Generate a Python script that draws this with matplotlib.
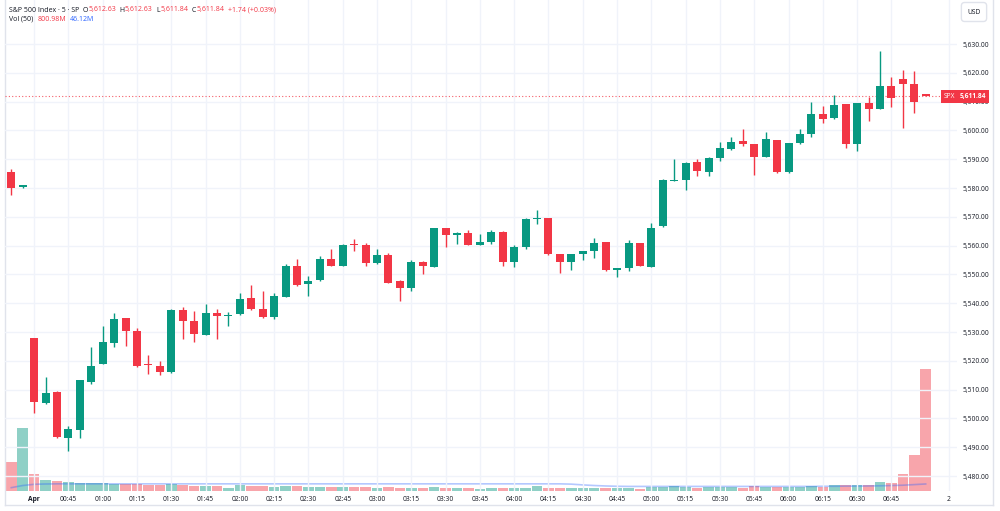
import numpy as np
import matplotlib.pyplot as plt
from matplotlib.lines import Line2D
from matplotlib.ticker import FuncFormatter

plt.rcParams['font.family'] = ['Open Sans', 'DejaVu Sans']

# 5-minute bars, S&P 500 index
opens = [5585.6, 5580.2, 5527.8, 5505.2, 5509.2, 5493.1, 5496.1, 5512.5, 5518.9, 5526.3,
         5534.9, 5530.2, 5518.8, 5518.2, 5516.0, 5537.6, 5533.8, 5528.9, 5536.6, 5535.6,
         5536.1, 5541.7, 5537.9, 5535.1, 5542.3, 5553.0, 5546.7, 5548.0, 5555.2, 5553.1,
         5560.4, 5560.3, 5553.8, 5556.7, 5547.7, 5545.4, 5554.4, 5552.7, 5566.0, 5563.8,
         5564.3, 5560.2, 5561.4, 5564.8, 5554.4, 5559.6, 5569.2, 5569.5, 5557.0, 5554.4,
         5557.1, 5558.0, 5561.1, 5551.6, 5552.1, 5560.8, 5552.7, 5566.9, 5582.6, 5582.8,
         5588.9, 5585.4, 5590.5, 5593.5, 5596.3, 5595.3, 5590.9, 5596.7, 5585.4, 5595.5,
         5598.6, 5605.7, 5604.2, 5609.1, 5595.2, 5609.5, 5607.4, 5615.3, 5617.9, 5616.2,
         5612.63]
highs = [5586.5, 5581.0, 5528.0, 5514.5, 5509.6, 5497.5, 5513.3, 5524.9, 5532.1, 5536.5,
         5535.0, 5531.3, 5522.0, 5519.9, 5538.0, 5538.8, 5537.4, 5539.7, 5538.0, 5536.9,
         5543.4, 5546.5, 5544.4, 5543.5, 5553.6, 5555.2, 5549.3, 5556.4, 5558.7, 5560.4,
         5562.3, 5560.8, 5559.0, 5557.3, 5548.0, 5555.0, 5554.5, 5566.2, 5566.1, 5564.6,
         5565.4, 5563.9, 5565.4, 5565.0, 5560.2, 5569.5, 5572.4, 5569.6, 5557.1, 5557.1,
         5558.3, 5562.8, 5561.4, 5552.2, 5561.8, 5560.9, 5567.7, 5583.0, 5590.1, 5589.0,
         5590.1, 5590.9, 5596.1, 5597.6, 5600.4, 5595.4, 5599.6, 5596.8, 5595.6, 5600.5,
         5609.8, 5608.5, 5612.3, 5609.2, 5609.5, 5611.5, 5627.5, 5618.4, 5621.0, 5620.6,
         5612.63]
lows = [5577.7, 5580.1, 5501.8, 5505.0, 5493.3, 5488.8, 5493.1, 5511.8, 5518.8, 5524.7,
        5525.3, 5518.0, 5515.6, 5515.2, 5515.9, 5527.6, 5526.5, 5528.8, 5527.6, 5532.1,
        5536.0, 5537.8, 5535.0, 5534.4, 5542.1, 5546.1, 5542.5, 5547.7, 5552.8, 5553.0,
        5558.0, 5553.0, 5553.7, 5547.1, 5540.8, 5544.4, 5550.0, 5552.5, 5559.4, 5560.7,
        5560.1, 5560.1, 5560.5, 5553.0, 5552.5, 5558.7, 5567.4, 5556.9, 5550.6, 5551.4,
        5555.0, 5555.6, 5551.3, 5549.2, 5551.3, 5552.8, 5552.6, 5566.5, 5582.5, 5579.4,
        5584.3, 5584.3, 5589.4, 5593.2, 5594.6, 5584.6, 5590.8, 5585.3, 5585.3, 5595.4,
        5597.8, 5602.5, 5604.1, 5593.8, 5593.0, 5603.3, 5607.3, 5608.2, 5601.0, 5606.2,
        5611.84]
closes = [5580.1, 5580.9, 5505.8, 5508.9, 5493.4, 5496.2, 5513.2, 5518.2, 5526.4, 5534.6,
          5530.3, 5518.3, 5518.5, 5516.0, 5537.6, 5533.8, 5529.2, 5536.6, 5535.6, 5536.0,
          5541.3, 5538.0, 5535.1, 5542.6, 5553.1, 5546.2, 5547.7, 5555.2, 5553.1, 5560.3,
          5560.2, 5553.8, 5556.7, 5547.2, 5545.4, 5554.4, 5553.0, 5566.0, 5563.7, 5564.4,
          5560.2, 5561.1, 5564.8, 5554.4, 5559.6, 5569.1, 5569.7, 5557.0, 5554.4, 5557.0,
          5558.2, 5561.0, 5551.5, 5552.1, 5561.0, 5552.9, 5566.3, 5582.8, 5582.8, 5588.8,
          5586.0, 5590.5, 5593.9, 5596.1, 5595.2, 5590.9, 5596.9, 5585.4, 5595.5, 5598.8,
          5605.6, 5604.1, 5608.9, 5595.2, 5609.4, 5607.3, 5615.3, 5611.1, 5616.2, 5610.0,
          5611.84]
# volume in millions
volume_m = [190, 416, 109, 70, 63, 57, 55, 50, 50, 44,
            44, 48, 39, 39, 48, 39, 35, 35, 35, 22,
            37, 31, 31, 26, 31, 31, 26, 26, 26, 26,
            26, 26, 22, 28, 22, 22, 17, 26, 20, 17,
            17, 13, 17, 22, 17, 17, 31, 22, 22, 17,
            17, 17, 17, 17, 17, 15, 24, 28, 31, 28,
            22, 26, 26, 26, 22, 31, 26, 26, 26, 26,
            31, 26, 37, 39, 39, 37, 59, 55, 114, 239,
            800.98]
vol_ma_m = [22, 36, 44, 46, 47, 47, 47, 47, 47, 47,
            47, 47, 47, 47, 47, 47, 47, 47, 47, 47,
            47, 47, 47, 47, 47, 47, 47, 47, 47, 47,
            47, 47, 47, 47, 47, 47, 47, 47, 47, 47,
            47, 47, 47, 47, 47, 47, 47, 47, 47, 45,
            40, 36, 33, 31, 30, 30, 30, 30, 30, 30,
            30, 30, 30, 30, 30, 30, 30, 30, 30, 30,
            30, 31, 31, 32, 32, 33, 34, 36, 38, 42,
            46.12]
tick_labels = ['Apr', '00:45', '01:00', '01:15', '01:30', '01:45', '02:00', '02:15',
               '02:30', '02:45', '03:00', '03:15', '03:30', '03:45', '04:00', '04:15',
               '04:30', '04:45', '05:00', '05:15', '05:30', '05:45', '06:00', '06:15',
               '06:30', '06:45', '2']
tick_bars = [2, 5, 8, 11, 14, 17, 20, 23, 26, 29, 32, 35, 38, 41, 44, 47, 50, 53, 56,
             59, 62, 65, 68, 71, 74, 77, 82]
price_ticks = [5480, 5490, 5500, 5510, 5520, 5530, 5540, 5550, 5560, 5570, 5580,
               5590, 5600, 5610, 5620, 5630]
last_price = 5611.84

UP = '#089981'
DOWN = '#F23645'
TXT = '#131722'
FS = 4.8

o = np.array(opens); h = np.array(highs); l = np.array(lows); c = np.array(closes)
x = np.arange(len(o))
up = c >= o
cols = np.where(up, UP, DOWN)

fig = plt.figure(figsize=(10, 5.11), dpi=100)
W, H = 1000, 511
ax = fig.add_axes([5 / W, 20 / H, 952 / W, 491 / H])
vax = fig.add_axes(ax.get_position(), sharex=ax)
vax.set_zorder(1)
ax.set_zorder(2)
ax.patch.set_visible(False)
vax.axis('off')

# volume
vcols = np.where(up, '#8fd0c6', '#f8a5ab')
vax.bar(x, np.array(volume_m) * 1e6, width=0.92, color=vcols, linewidth=0)
vax.plot(x, np.array(vol_ma_m) * 1e6, color='#2962FF', alpha=0.35, lw=1.2)
vax.set_ylim(0, 800.98e6 * 491 / 122)

# candles
ax.vlines(x, l, h, colors=cols, lw=1, zorder=3)
body_h = np.maximum(np.abs(c - o), 0.35)
ax.bar(x, body_h, bottom=np.minimum(o, c), width=0.7, color=cols, linewidth=0, zorder=4)

ax.axhline(last_price, color=DOWN, ls=(0, (1, 2)), lw=0.8, alpha=0.8, zorder=2)

ax.set_xlim(-0.55, 82.74)
ax.set_ylim(5474.8, 5645.3)
ax.set_xticks(tick_bars)
ax.set_xticklabels(tick_labels)
ax.get_xticklabels()[0].set_fontweight('bold')
ax.set_yticks(price_ticks)
ax.yaxis.set_major_formatter(FuncFormatter(lambda v, p: f'{v:,.2f}'))
ax.yaxis.tick_right()
ax.tick_params(axis='both', length=0, labelsize=FS, labelcolor=TXT)
ax.tick_params(axis='y', pad=3.8)
ax.tick_params(axis='x', pad=3.3)
ax.grid(True, color='#f0f3fa', lw=1)
ax.set_axisbelow(True)
for s in ax.spines.values():
    s.set_visible(False)

# last price tags
ytr = ax.get_yaxis_transform()
ax.text(1.003, last_price, f'{last_price:,.2f}', transform=ytr, ha='left', va='center',
        fontsize=FS, color='white', fontweight='bold', zorder=10,
        bbox=dict(boxstyle='square,pad=0.45', fc=DOWN, ec='none'))
ax.text(0.9985, last_price, 'SPX', transform=ytr, ha='right', va='center',
        fontsize=FS, color='white', zorder=10,
        bbox=dict(boxstyle='square,pad=0.45', fc=DOWN, ec='none'))

# frame
fc = '#e0e3eb'
fig.add_artist(Line2D([5 / W, 5 / W], [1 - 505 / H, 1], color=fc, lw=1))
fig.add_artist(Line2D([993 / W, 993 / W], [1 - 505 / H, 1], color=fc, lw=1))
fig.add_artist(Line2D([5 / W, 993 / W], [1 - 505 / H, 1 - 505 / H], color=fc, lw=1))

fig.text(974 / W, 1 - 12 / H, 'USD', ha='center', va='center', fontsize=FS, color=TXT,
         bbox=dict(boxstyle='round,pad=0.9,rounding_size=0.5', fc='white', ec=fc))


# legend text, pieces chained left to right
def chain(px, py, parts):
    prev = fig.text(px / W, 1 - py / H, parts[0][0], ha='left', va='center',
                    fontsize=FS + 0.2, color=parts[0][1])
    for s, col, gap in parts[1:]:
        prev = ax.annotate(s, xy=(1, 0), xycoords=prev, xytext=(gap, 0),
                           textcoords='offset points', ha='left', va='bottom',
                           fontsize=FS + 0.2, color=col, annotation_clip=False)


chain(9, 10, [('S&P 500 Index · 5 · SP', TXT, 0),
              ('O', TXT, 2.2), ('5,612.63', DOWN, 0.3),
              ('H', TXT, 2.6), ('5,612.63', DOWN, 0.3),
              ('L', TXT, 2.6), ('5,611.84', DOWN, 0.3),
              ('C', TXT, 2.6), ('5,611.84', DOWN, 0.3),
              ('+1.74 (+0.03%)', DOWN, 2.6)])
chain(9, 19.5, [('Vol (50)', TXT, 0), ('800.98M', DOWN, 3.0), ('46.12M', '#2962FF', 3.0)])

fig.savefig('out.png', dpi=100, facecolor='white')
